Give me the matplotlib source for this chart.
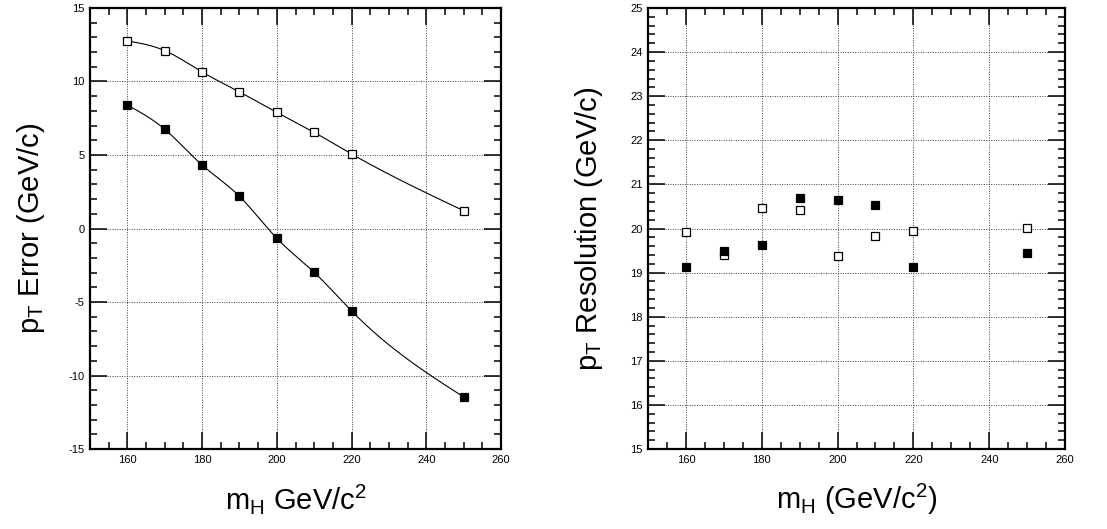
"""pT error and resolution versus Higgs mass, two panels."""

import numpy as np
import matplotlib

matplotlib.use("Agg", force=True)
import matplotlib.pyplot as plt
from matplotlib.ticker import FixedLocator, MultipleLocator

plt.rcParams["font.family"] = ["Liberation Sans", "DejaVu Sans"]
plt.rcParams["mathtext.fontset"] = "custom"
plt.rcParams["mathtext.rm"] = "Liberation Sans"
plt.rcParams["mathtext.it"] = "Liberation Sans:italic"
plt.rcParams["axes.unicode_minus"] = False

# Higgs mass points [GeV/c^2]
mass = [160, 170, 180, 190, 200, 210, 220, 250]

# pT error [GeV/c]
err_open = [12.76, 12.10, 10.65, 9.29, 7.90, 6.54, 5.07, 1.21]
err_filled = [8.40, 6.75, 4.32, 2.19, -0.67, -2.98, -5.61, -11.46]

# pT resolution [GeV/c]
res_open = [19.91, 19.40, 20.46, 20.43, 19.38, 19.84, 19.94, 20.01]
res_filled = [19.13, 19.48, 19.63, 20.69, 20.65, 20.53, 19.13, 19.44]


def natural_spline(x, y, n=300):
    """Natural cubic spline through (x, y), like TGraph option "C"."""
    x = np.asarray(x, dtype=float)
    y = np.asarray(y, dtype=float)
    m = x.size
    h = np.diff(x)
    A = np.zeros((m, m))
    b = np.zeros(m)
    A[0, 0] = 1.0
    A[-1, -1] = 1.0
    for i in range(1, m - 1):
        A[i, i - 1] = h[i - 1]
        A[i, i] = 2.0 * (h[i - 1] + h[i])
        A[i, i + 1] = h[i]
        b[i] = 6.0 * ((y[i + 1] - y[i]) / h[i] - (y[i] - y[i - 1]) / h[i - 1])
    M = np.linalg.solve(A, b)
    xs = np.linspace(x[0], x[-1], n)
    k = np.clip(np.searchsorted(x, xs) - 1, 0, m - 2)
    dx0 = xs - x[k]
    dx1 = x[k + 1] - xs
    hk = h[k]
    ys = (M[k] * dx1**3 + M[k + 1] * dx0**3) / (6 * hk) \
        + (y[k] / hk - M[k] * hk / 6) * dx1 \
        + (y[k + 1] / hk - M[k + 1] * hk / 6) * dx0
    return xs, ys


def style_axes(ax, ymajor, yminor):
    ax.set_xlim(150, 260)
    ax.xaxis.set_major_locator(FixedLocator([160, 180, 200, 220, 240, 260]))
    ax.xaxis.set_minor_locator(MultipleLocator(5))
    ax.yaxis.set_major_locator(MultipleLocator(ymajor))
    ax.yaxis.set_minor_locator(MultipleLocator(yminor))
    ax.tick_params(which="both", direction="in", top=True, right=True,
                   labelsize=8, width=1.1, pad=4, colors="black")
    ax.tick_params(which="major", length=12)
    ax.tick_params(which="minor", length=5)
    for sp in ax.spines.values():
        sp.set_linewidth(1.6)
    ax.grid(True, which="major", linestyle=(0, (1, 1.5)), linewidth=0.7, color="0.25")
    ax.set_axisbelow(True)


fig = plt.figure(figsize=(11.07, 5.29), dpi=100)
ax1 = fig.add_axes([0.0813, 0.1512, 0.3713, 0.8337])
ax2 = fig.add_axes([0.5854, 0.1512, 0.3767, 0.8337])

# left panel: error with smooth curves
for vals, face in ((err_open, "white"), (err_filled, "black")):
    xs, ys = natural_spline(mass, vals)
    ax1.plot(xs, ys, color="black", linewidth=0.8, zorder=3)
    ax1.plot(mass, vals, linestyle="none", marker="s", markersize=5.8,
             markerfacecolor=face, markeredgecolor="black", markeredgewidth=0.9, zorder=4)
ax1.set_ylim(-15, 15)
style_axes(ax1, 5, 1)
ax1.set_ylabel(r"p$_{\mathrm{T}}$ Error (GeV/c)", fontsize=21)
ax1.set_xlabel(r"m$_{\mathrm{H}}$ GeV/c$^{2}$", fontsize=21)
ax1.yaxis.set_label_coords(-0.105, 0.5)
ax1.xaxis.set_label_coords(0.5, -0.075)

# right panel: resolution, markers only
for vals, face in ((res_open, "white"), (res_filled, "black")):
    ax2.plot(mass, vals, linestyle="none", marker="s", markersize=5.8,
             markerfacecolor=face, markeredgecolor="black", markeredgewidth=0.9, zorder=4)
ax2.set_ylim(15, 25)
style_axes(ax2, 1, 0.2)
ax2.set_ylabel(r"p$_{\mathrm{T}}$ Resolution (GeV/c)", fontsize=21)
ax2.set_xlabel(r"m$_{\mathrm{H}}$ (GeV/c$^{2}$)", fontsize=21)
ax2.yaxis.set_label_coords(-0.103, 0.5)
ax2.xaxis.set_label_coords(0.5, -0.075)

fig.savefig("out.png", dpi=100)
